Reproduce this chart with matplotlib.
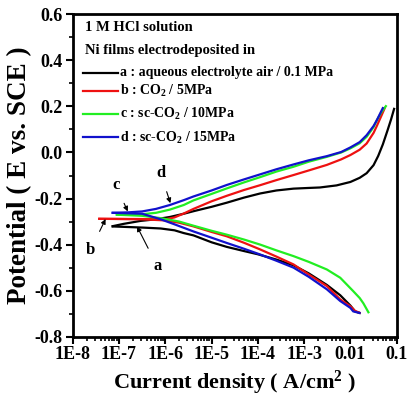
import numpy as np
import matplotlib
matplotlib.use("Agg")
import matplotlib.pyplot as plt
from matplotlib.ticker import LogLocator, MultipleLocator, NullFormatter

plt.rcParams['font.family'] = ['Liberation Serif', 'DejaVu Serif']
plt.rcParams['font.weight'] = 'bold'
plt.rcParams['mathtext.fontset'] = 'custom'
plt.rcParams['mathtext.rm'] = 'Liberation Serif:bold'
plt.rcParams['mathtext.bf'] = 'Liberation Serif:bold'
plt.rcParams['mathtext.it'] = 'Liberation Serif:bold'
plt.rcParams['axes.unicode_minus'] = False

# ---- data: log10(current density, A/cm2) and potential (V vs SCE) ----
a_an_logi = [-7.16, -6.9, -6.53, -6.2, -5.9, -5.6, -5.39, -5.0, -4.67, -4.3, -3.95, -3.6, -3.23, -2.9,
             -2.66, -2.3, -2.0, -1.8, -1.65, -1.5, -1.4, -1.3, -1.2, -1.12, -1.05]
a_an_E = [-0.321, -0.31, -0.297, -0.290, -0.280, -0.266, -0.255, -0.236, -0.218, -0.196, -0.178, -0.165,
          -0.157, -0.154, -0.152, -0.143, -0.128, -0.11, -0.09, -0.055, -0.015, 0.035, 0.095, 0.145, 0.194]
a_ca_logi = [-7.16, -6.5, -6.1, -5.8, -5.6, -5.39, -5.0, -4.67, -4.3, -4.0, -3.6, -3.23, -2.9, -2.51,
             -2.22, -2.0, -1.9, -1.78]
a_ca_E = [-0.321, -0.326, -0.330, -0.338, -0.35, -0.36, -0.39, -0.41, -0.428, -0.442, -0.465, -0.49,
          -0.525, -0.575, -0.62, -0.665, -0.69, -0.698]

b_an_logi = [-7.45, -6.5, -6.0, -5.8, -5.6, -5.39, -5.0, -4.67, -4.3, -3.95, -3.6, -3.23, -2.9, -2.51,
             -2.2, -2.0, -1.8, -1.65, -1.5, -1.43, -1.33, -1.25]
b_an_E = [-0.288, -0.289, -0.290, -0.282, -0.265, -0.245, -0.212, -0.188, -0.163, -0.142, -0.120, -0.098,
          -0.078, -0.054, -0.03, -0.011, 0.012, 0.039, 0.085, 0.115, 0.16, 0.197]
b_ca_logi = [-7.45, -6.5, -6.0, -5.7, -5.39, -5.0, -4.67, -4.3, -3.95, -3.6, -3.23, -2.9, -2.51, -2.22,
             -2.0, -1.9, -1.78]
b_ca_E = [-0.288, -0.29, -0.295, -0.305, -0.321, -0.345, -0.364, -0.392, -0.421, -0.452, -0.486, -0.53,
          -0.58, -0.638, -0.668, -0.688, -0.698]

c_an_logi = [-7.07, -6.5, -6.2, -5.9, -5.6, -5.39, -5.0, -4.67, -4.3, -3.95, -3.6, -3.23, -2.9, -2.51,
             -2.2, -2.0, -1.8, -1.65, -1.5, -1.43, -1.33, -1.22]
c_an_E = [-0.27, -0.268, -0.262, -0.248, -0.228, -0.208, -0.18, -0.156, -0.13, -0.107, -0.083, -0.062,
          -0.04, -0.019, 0.0, 0.018, 0.04, 0.068, 0.11, 0.14, 0.175, 0.205]
c_ca_logi = [-7.07, -6.5, -6.1, -5.7, -5.39, -5.0, -4.67, -4.3, -3.95, -3.6, -3.23, -2.9, -2.51, -2.22,
             -1.94, -1.8, -1.72, -1.65, -1.6]
c_ca_E = [-0.27, -0.275, -0.285, -0.30, -0.318, -0.34, -0.357, -0.378, -0.40, -0.425, -0.45, -0.475,
          -0.508, -0.544, -0.602, -0.632, -0.655, -0.68, -0.698]

d_an_logi = [-7.16, -6.8, -6.5, -6.2, -5.9, -5.6, -5.39, -5.0, -4.67, -4.3, -3.95, -3.6, -3.23, -2.9,
             -2.51, -2.2, -2.0, -1.8, -1.65, -1.5, -1.43, -1.29]
d_an_E = [-0.262, -0.260, -0.256, -0.245, -0.228, -0.207, -0.191, -0.165, -0.141, -0.117, -0.095, -0.073,
          -0.052, -0.034, -0.016, 0.002, 0.022, 0.045, 0.075, 0.115, 0.14, 0.197]
d_ca_logi = [-7.16, -6.5, -6.1, -5.8, -5.39, -5.0, -4.67, -4.3, -3.95, -3.6, -3.23, -2.9, -2.51, -2.22,
             -2.0, -1.94, -1.78]
d_ca_E = [-0.262, -0.266, -0.29, -0.312, -0.343, -0.37, -0.393, -0.418, -0.443, -0.47, -0.50, -0.54,
          -0.594, -0.645, -0.675, -0.69, -0.698]

series_labels = ["a : aqueous electrolyte air / 0.1 MPa", "b : CO$_2$ / 5MPa",
                 "c : sc-CO$_2$ / 10MPa", "d : sc-CO$_2$ / 15MPa"]
series_colors = ["#000000", "#ee1111", "#22ee22", "#1111cc"]

xtick_vals = [1e-8, 1e-7, 1e-6, 1e-5, 1e-4, 1e-3, 1e-2, 1e-1]
xtick_labels = ["1E-8", "1E-7", "1E-6", "1E-5", "1E-4", "1E-3", "0.01", "0.1"]

fig = plt.figure(figsize=(4.10, 3.96), dpi=100)
ax = fig.add_axes([0.1773, 0.1497, 0.7903, 0.8142])

curves = [(a_an_logi, a_an_E, a_ca_logi, a_ca_E),
          (b_an_logi, b_an_E, b_ca_logi, b_ca_E),
          (c_an_logi, c_an_E, c_ca_logi, c_ca_E),
          (d_an_logi, d_an_E, d_ca_logi, d_ca_E)]
for (al, ae, cl, ce), col in zip(curves, series_colors):
    ax.plot(10 ** np.array(al), ae, color=col, lw=1.6, solid_capstyle='butt')
    ax.plot(10 ** np.array(cl), ce, color=col, lw=1.6, solid_capstyle='butt')

ax.set_xscale('log')
ax.set_xlim(1e-8, 1e-1)
ax.set_ylim(-0.8, 0.6)
ax.set_xticks(xtick_vals)
ax.set_xticklabels(xtick_labels)
ax.xaxis.set_minor_locator(LogLocator(base=10, subs=np.arange(2, 10), numticks=20))
ax.xaxis.set_minor_formatter(NullFormatter())
ax.yaxis.set_major_locator(MultipleLocator(0.2))
ax.yaxis.set_minor_locator(MultipleLocator(0.1))
ax.yaxis.set_major_formatter(matplotlib.ticker.FormatStrFormatter('%.1f'))
ax.tick_params(which='major', direction='out', length=5, width=1.5, labelsize=13, pad=2)
ax.tick_params(which='minor', direction='out', length=3, width=1.2)
ax.tick_params(axis='x', which='both', top=False)
ax.tick_params(axis='y', which='both', right=False)
for s in ax.spines.values():
    s.set_linewidth(2)

ax.set_xlabel("Current density ( A/cm$^2$ )", fontsize=16, fontweight='bold', labelpad=4)
ax.set_ylabel("Potential ( E vs. SCE )", fontsize=19.5, fontweight='bold', labelpad=2)

# header text and legend
ax.text(0.038, 0.960, "1 M HCl solution", transform=ax.transAxes, fontsize=10.5, fontweight='bold',
        va='center', ha='left')
ax.text(0.038, 0.889, "Ni films electrodeposited in", transform=ax.transAxes, fontsize=10.5,
        fontweight='bold', va='center', ha='left')
rows_y = [0.819, 0.762, 0.690, 0.618]
for lab, col, yy in zip(series_labels, series_colors, rows_y):
    ax.plot([0.032, 0.140], [yy, yy], color=col, lw=1.6, transform=ax.transAxes)
    ax.text(0.146, yy, lab, transform=ax.transAxes, fontsize=10, fontweight='bold',
            va='center', ha='left')

# curve letter annotations (label pos, arrow tip) in data coords (log10 i, E)
ann_letters = ["a", "b", "c", "d"]
ann_text_pos = [(-6.17, -0.495), (-7.61, -0.422), (-7.07, -0.141), (-6.10, -0.089)]
ann_tip = [(-6.61, -0.321), (-7.29, -0.289), (-6.81, -0.256), (-5.89, -0.22)]
for let, (tx, ty), (hx, hy) in zip(ann_letters, ann_text_pos, ann_tip):
    ax.annotate(let, xy=(10 ** hx, hy), xytext=(10 ** tx, ty), fontsize=12, fontweight='bold',
                ha='center', va='center',
                arrowprops=dict(arrowstyle='-|>', color='black', lw=0.8, mutation_scale=7,
                                shrinkA=6, shrinkB=0))

fig.savefig("out.png", dpi=100)
